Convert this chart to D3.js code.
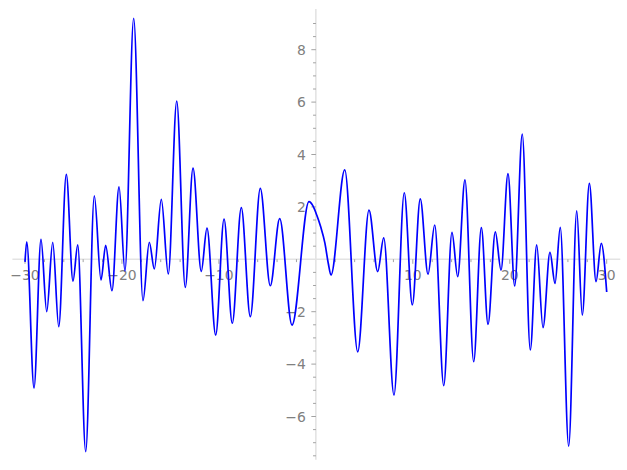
<!DOCTYPE html>
<html><head><meta charset="utf-8">
<script src="https://cdn.jsdelivr.net/npm/d3@7"></script>
<style>body{margin:0;background:#fff}svg{display:block}</style>
</head><body>
<script>
// Curve samples (x, y): local extrema + a few shoulder points
const xs = [-30,-29.82,-29.07,-28.35,-27.76,-27.14,-26.52,-25.74,-25.05,-24.56,-23.74,-22.85,-22.16,-21.68,-21.03,
  -20.30,-19.69,-18.79,-17.83,-17.18,-16.66,-15.94,-15.22,-14.35,-13.47,-12.67,-11.82,-11.23,-10.33,-9.47,-8.62,
  -7.69,-6.76,-5.73,-4.70,-3.73,-2.46,-0.71,-0.26,0.09,0.50,0.94,1.28,1.56,2.98,4.32,5.48,6.38,7.00,8.06,9.12,9.95,
  10.77,11.57,12.26,13.19,14.04,14.63,15.38,16.28,17.07,17.76,18.51,19.10,19.82,20.51,21.29,22.12,22.78,23.43,
  24.15,24.67,25.21,26.08,26.91,27.48,28.21,28.90,29.44,30];
const ys = [-0.1,0.67,-4.91,0.76,-2.0,0.65,-2.57,3.24,-0.83,0.55,-7.34,2.42,-0.79,0.53,-1.20,
  2.77,-0.44,9.20,-1.58,0.65,-0.37,2.29,-0.56,6.04,-1.07,3.48,-0.46,1.19,-2.89,1.53,-2.44,
  1.97,-2.19,2.71,-1.01,1.55,-2.51,2.20,2.01,1.69,1.24,0.61,-0.15,-0.60,3.41,-3.53,1.88,-0.47,0.82,-5.18,2.54,-1.74,
  2.31,-0.57,1.31,-4.82,1.03,-0.66,3.03,-3.91,1.21,-2.48,1.05,-0.41,3.27,-1.02,4.78,-3.46,0.55,-2.61,
  0.27,-0.92,1.22,-7.13,1.85,-2.13,2.90,-0.85,0.61,-1.25];
const xTickLabels = [-30,-20,-10,10,20,30];
const yTickLabels = [-6,-4,-2,2,4,6,8];

const W = 627, H = 470;
const svg = d3.select("body").append("svg").attr("width", W).attr("height", H);
const x = d3.scaleLinear().domain([-30, 30]).range([25, 606.7]);
const y = d3.scaleLinear().domain([0, 8]).range([259.3, 49.7]);

const axisColor = "#e3e3e3", tickColor = "#8a8a8a", labelColor = "#808080";
const font = "DejaVu Sans, sans-serif", fs = 13.9;

// axis lines
svg.append("line").attr("x1", x(-31.3)).attr("x2", x(31.4)).attr("y1", y(0)).attr("y2", y(0))
  .attr("stroke", axisColor).attr("stroke-width", 1.6);
svg.append("line").attr("x1", x(0)).attr("x2", x(0)).attr("y1", y(9.55)).attr("y2", y(-7.65))
  .attr("stroke", axisColor).attr("stroke-width", 1.6);

// x ticks
const xMinor = d3.range(-30, 30.01, 2).filter(v => v % 10 !== 0);
const xMajor = d3.range(-30, 30.01, 10).filter(v => v !== 0);
const gx = svg.append("g");
gx.selectAll(".mn").data(xMinor).join("line")
  .attr("x1", d => x(d)).attr("x2", d => x(d)).attr("y1", y(0)).attr("y2", y(0) + 2.8)
  .attr("stroke", tickColor).attr("stroke-width", 0.8);
gx.selectAll(".mj").data(xMajor).join("line")
  .attr("x1", d => x(d)).attr("x2", d => x(d)).attr("y1", y(0)).attr("y2", y(0) + 4.5)
  .attr("stroke", tickColor).attr("stroke-width", 0.8);
gx.selectAll("text").data(xTickLabels).join("text")
  .attr("x", d => x(d)).attr("y", y(0) + 20.3)
  .attr("text-anchor", "middle").attr("font-family", font).attr("font-size", fs)
  .attr("fill", labelColor).text(d => d < 0 ? "\u2212" + Math.abs(d) : d);

// y ticks
const yMinor = d3.range(-7.5, 9.01, 0.5).filter(v => v % 2 !== 0);
const yMajor = d3.range(-6, 8.01, 2).filter(v => v !== 0);
const gy = svg.append("g");
gy.selectAll(".mn").data(yMinor).join("line")
  .attr("x1", x(0) - 2.8).attr("x2", x(0)).attr("y1", d => y(d)).attr("y2", d => y(d))
  .attr("stroke", tickColor).attr("stroke-width", 0.8);
gy.selectAll(".mj").data(yMajor).join("line")
  .attr("x1", x(0) - 4.5).attr("x2", x(0)).attr("y1", d => y(d)).attr("y2", d => y(d))
  .attr("stroke", tickColor).attr("stroke-width", 0.8);
gy.selectAll("text").data(yTickLabels).join("text")
  .attr("x", x(0) - 10).attr("y", d => y(d)).attr("dy", "0.36em")
  .attr("text-anchor", "end").attr("font-family", font).attr("font-size", fs)
  .attr("fill", labelColor).text(d => d < 0 ? "\u2212" + Math.abs(d) : d);

// curve
const pts = xs.map((v, i) => [v, ys[i]]);
const line = d3.line().x(d => x(d[0])).y(d => y(d[1])).curve(d3.curveMonotoneX);
svg.append("path").attr("d", line(pts)).attr("fill", "none")
  .attr("stroke", "#0000ff").attr("stroke-width", 1.7).attr("stroke-linejoin", "round");
</script>
</body></html>
